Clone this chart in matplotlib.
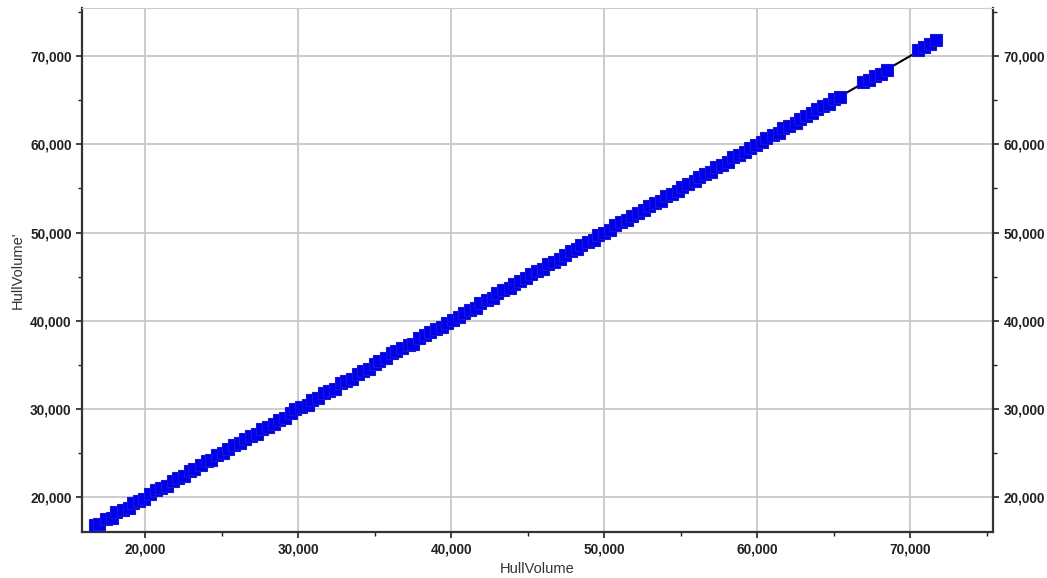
import numpy as np
import matplotlib.pyplot as plt
from matplotlib.ticker import StrMethodFormatter, MultipleLocator

plt.rcParams['font.family'] = ['Liberation Sans', 'DejaVu Sans']

hull_x = [16700, 16950, 17400, 17800, 18100, 18500, 18900, 19200, 19600, 19900,
          20300, 20700, 21000, 21400, 21800, 22100, 22500, 22900, 23200, 23600,
          24000, 24300, 24700, 25100, 25400, 25800, 26200, 26500, 26900, 27300,
          27600, 28000, 28400, 28700, 29100, 29500, 29800, 30200, 30600, 30900,
          31300, 31700, 32000, 32400, 32800, 33100, 33500, 33900, 34200, 34600,
          35000, 35300, 35700, 36100, 36400, 36800, 37200, 37500, 37900, 38300,
          38600, 39000, 39400, 39700, 40100, 40500, 40800, 41200, 41600, 41900,
          42300, 42700, 43000, 43400, 43800, 44100, 44500, 44900, 45200, 45600,
          46000, 46300, 46700, 47100, 47400, 47800, 48200, 48500, 48900, 49300,
          49600, 50000, 50400, 50700, 51100, 51500, 51800, 52200, 52600, 52900,
          53300, 53700, 54000, 54400, 54800, 55100, 55500, 55900, 56200, 56600,
          57000, 57300, 57700, 58100, 58400, 58800, 59200, 59500, 59900, 60300,
          60600, 61000, 61400, 61700, 62100, 62500, 62800, 63200, 63600, 63900,
          64300, 64700, 65000, 65400, 66900, 67300, 67700, 68100, 68500, 70500,
          70900, 71300, 71700]
hull_y = [16900, 17000, 17500, 17700, 18300, 18600, 18800, 19400, 19600, 19800,
          20400, 20800, 21100, 21300, 21900, 22200, 22400, 23000, 23200, 23700,
          24100, 24200, 24800, 25000, 25500, 25900, 26100, 26600, 26900, 27200,
          27700, 28000, 28300, 28800, 29000, 29600, 30000, 30200, 30500, 31000,
          31200, 31800, 32100, 32300, 32900, 33200, 33400, 34000, 34300, 34500,
          35100, 35400, 35800, 36300, 36600, 36900, 37200, 37400, 38000, 38400,
          38700, 39100, 39300, 39800, 40100, 40400, 40900, 41200, 41500, 42000,
          42300, 42600, 43100, 43500, 43700, 44200, 44500, 44800, 45300, 45600,
          45900, 46400, 46700, 47000, 47500, 47900, 48100, 48600, 48900, 49200,
          49700, 50000, 50300, 50800, 51200, 51400, 51900, 52200, 52500, 53000,
          53300, 53600, 54100, 54400, 54700, 55200, 55500, 55800, 56300, 56600,
          56900, 57400, 57700, 58000, 58500, 58800, 59100, 59600, 59900, 60200,
          60700, 61000, 61300, 61800, 62100, 62400, 62900, 63200, 63500, 64000,
          64300, 64600, 65100, 65300, 67000, 67300, 67700, 68000, 68400, 70700,
          71000, 71400, 71800]

x = np.array(hull_x)
y = np.array(hull_y)

fig = plt.figure(figsize=(10.47, 5.78), dpi=100)
ax = fig.add_axes([0.0783, 0.0796, 0.870, 0.906])

# fit line
k, b = np.polyfit(x, y, 1)
xl = np.array([x.min(), x.max()])
ax.plot(xl, k * xl + b, color='black', lw=1.5, zorder=2)

ax.plot(x, y, 's', color='#0000ee', markersize=9, markeredgecolor='#1818d0',
        markeredgewidth=0.8, zorder=3)

ax.set_xlim(15850, 75400)
ax.set_ylim(16070, 75400)

ax.xaxis.set_major_locator(MultipleLocator(10000))
ax.yaxis.set_major_locator(MultipleLocator(10000))
ax.xaxis.set_minor_locator(MultipleLocator(5000))
ax.yaxis.set_minor_locator(MultipleLocator(5000))
ax.xaxis.set_major_formatter(StrMethodFormatter('{x:,.0f}'))
ax.yaxis.set_major_formatter(StrMethodFormatter('{x:,.0f}'))

ax.grid(True, which='major', color='#c8c8c8', lw=1.3)
ax.set_axisbelow(True)

ax.tick_params(which='both', direction='out', right=True, labelright=True,
               colors='#222222', labelsize=9.8)
ax.tick_params(which='major', length=4, width=1.2)
ax.tick_params(which='minor', length=3, width=1)
for t in ax.xaxis.get_major_ticks() + ax.yaxis.get_major_ticks():
    t.label1.set_fontweight('bold')
    t.label2.set_fontweight('bold')

for s in ['left', 'bottom', 'right']:
    ax.spines[s].set_color('#333333')
    ax.spines[s].set_linewidth(1.6)
ax.spines['top'].set_color('#cccccc')

ax.set_xlabel('HullVolume', fontsize=10.5, color='#333333', labelpad=4)
ax.set_ylabel("HullVolume'", fontsize=10.5, color='#333333', labelpad=4)

fig.savefig('out.png', dpi=100)
